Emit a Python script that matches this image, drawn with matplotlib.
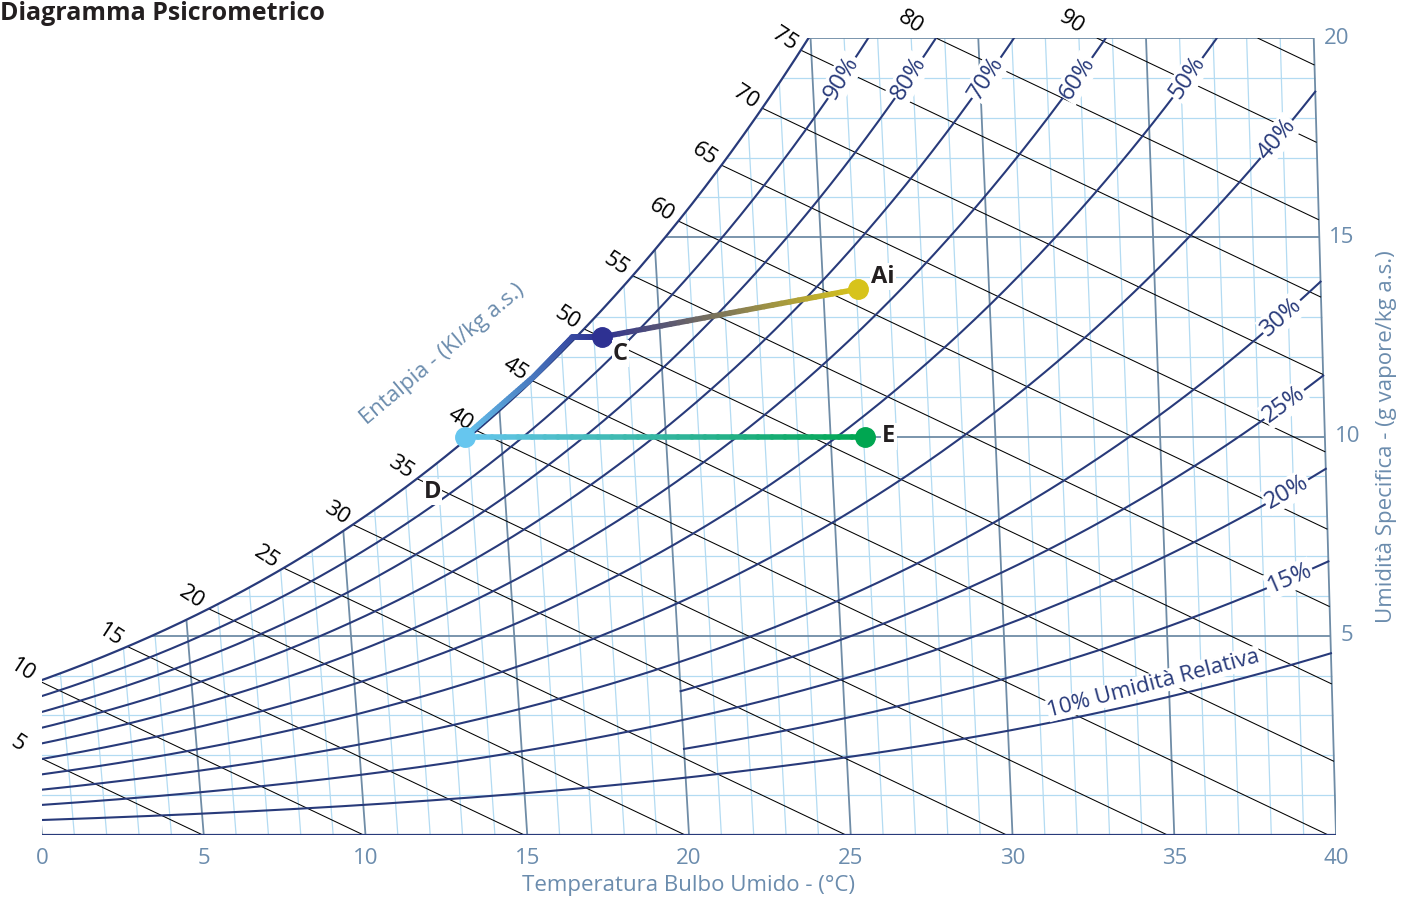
import numpy as np
import matplotlib.pyplot as plt
from matplotlib.collections import LineCollection
from matplotlib.colors import to_rgb

plt.rcParams['font.family'] = ['Open Sans', 'DejaVu Sans']

# --- chart levels ---
rh_levels = [0.1, 0.2, 0.3, 0.4, 0.5, 0.6, 0.7, 0.8, 0.9]
rh_partial = [0.15, 0.25]          # only drawn from 20 °C upwards
rh_top_labels = [0.9, 0.8, 0.7, 0.6, 0.5]
rh_side_labels = [0.4, 0.3, 0.25, 0.2, 0.15]
enthalpy_levels = list(range(5, 95, 5))
enthalpy_side_labels = list(range(5, 80, 5))
top_label_h = [80, 85]
top_label_txt = ['80', '90']
temp_ticks = [0, 5, 10, 15, 20, 25, 30, 35, 40]
w_ticks = [5, 10, 15, 20]

# --- process points (dry bulb °C, g/kg) ---
point_names = ['D', 'C', 'Ai', 'E']
point_T = [13.9, 18.25, 26.05, 26.05]
point_w = [10.0, 12.5, 13.7, 10.0]
point_colors = ['#66c6ef', '#2e3192', '#d7c31b', '#00a651']
# bends of the D -> C path (along saturation)
bend_T = [16.1, 17.35]
bend_w = [11.5, 12.5]
d_label = (12.8, 8.6)

P = 101.325
K = 2.61  # chart skew (kJ/kg per g/kg)

navy = '#283a7a'
grid_dark = '#6f8ca6'
grid_light = '#b3dbf2'
tick_col = '#6b8cad'


def psat(T):
    return 0.61078 * np.exp(17.27 * T / (T + 237.3))


def hum(T, phi):
    p = phi * psat(T)
    return 622 * p / (P - p)


def enth(T, w):
    return 1.006 * T + w * (2.501 + 0.00186 * T)


def xy(T, w):
    T = np.asarray(T, float)
    w = np.asarray(w, float)
    return enth(T, w) - K * w, w


def t_of_p(p):
    L = np.log(p / 0.61078)
    return 237.3 * L / (17.27 - L)


def t_sat(w, phi=1.0):
    return t_of_p(w * P / (622 + w) / phi)


def t_from_hw(h, w):
    return (h - 2.501 * w) / (1.006 + 0.00186 * w)


fig = plt.figure(figsize=(14.13, 9.07), dpi=100)
ax = fig.add_axes([42 / 1413, 72 / 907, 1294 / 1413, 797 / 907])
ax.set_xlim(0, enth(40, 0))
ax.set_ylim(0, 20)
for s in ax.spines.values():
    s.set_visible(False)


def seg(T0, w0, T1, w1, **kw):
    x, y = xy([T0, T1], [w0, w1])
    ax.plot(x, y, solid_capstyle='butt', **kw)


# light grid: dry bulb every 1 °C, humidity every 1 g/kg
for t in range(1, 40):
    if t % 5:
        seg(t, 0, t, min(hum(t, 1), 20), color=grid_light, lw=0.9, zorder=1)
for w in range(1, 20):
    if w % 5:
        seg(max(t_sat(w), 0), w, 40, w, color=grid_light, lw=0.9, zorder=1)

# dark grid
for t in [0, 5, 10, 15, 20, 25, 30, 35, 40]:
    seg(t, 0, t, min(hum(t, 1), 20), color=grid_dark, lw=1.3, zorder=2)
for w in [5, 10, 15, 20]:
    seg(t_sat(w), w, 40, w, color=grid_dark, lw=1.3, zorder=2)

# enthalpy lines
Tg = np.linspace(0, 40, 4001)
h_sat = enth(Tg, hum(Tg, 1))
h_top = enth(t_sat(20), 20)
starts = {}
for h in enthalpy_levels:
    if h < h_sat[0]:
        t0, w0 = 0.0, h / 2.501
    elif h <= h_top:
        t0 = np.interp(h, h_sat, Tg)
        w0 = hum(t0, 1)
    else:
        t0, w0 = t_from_hw(h, 20), 20.0
    if h <= enth(40, 0):
        t1, w1 = h / 1.006, 0.0
    else:
        t1, w1 = 40.0, (h - 40 * 1.006) / (2.501 + 0.00186 * 40)
    starts[h] = (t0, w0)
    seg(t0, w0, t1, w1, color='black', lw=0.75, zorder=3)


# RH curves
def rh_curve(phi, t0=0.0, lw=1.5):
    tend = min(40.0, t_sat(20, phi))
    T = np.linspace(t0, tend, 300)
    x, y = xy(T, hum(T, phi))
    ax.plot(x, y, color=navy, lw=lw, zorder=4)


for phi in rh_levels:
    rh_curve(phi)
for phi in rh_partial:
    rh_curve(phi, 20.0)
rh_curve(1.0, lw=1.6)
ax.plot(*xy([0, 40], [0, 0]), color=navy, lw=1.6, zorder=4)

fig.canvas.draw()


def angle_at(T, phi):
    p0 = ax.transData.transform(np.column_stack(xy([T - 0.1], [hum(T - 0.1, phi)])))[0]
    p1 = ax.transData.transform(np.column_stack(xy([T + 0.1], [hum(T + 0.1, phi)])))[0]
    return np.degrees(np.arctan2(p1[1] - p0[1], p1[0] - p0[0]))


box = dict(facecolor='white', edgecolor='none', pad=1.0)
for phi in rh_top_labels:
    t = t_sat(19.0, phi)
    x, y = xy(t, 19.0)
    ax.text(x, y, f'{int(round(phi * 100))}%', color=navy, fontsize=17,
            rotation=angle_at(t, phi) + 3, rotation_mode='anchor',
            ha='center', va='center', bbox=box, zorder=5)
for phi in rh_side_labels:
    t = 38.8
    x, y = xy(t, hum(t, phi))
    ax.text(x, y, f'{int(round(phi * 100))}%', color=navy, fontsize=17,
            rotation=angle_at(t, phi), rotation_mode='anchor',
            ha='center', va='center', bbox=box, zorder=5)
t = 34.6
x, y = xy(t, hum(t, 0.1))
ax.text(x, y + 0.15, '10% Umidità Relativa', color=navy, fontsize=16,
        rotation=angle_at(t, 0.1) + 1.5, rotation_mode='anchor',
        ha='center', va='bottom',
        bbox=dict(facecolor='white', edgecolor='none', pad=0.5), zorder=5)

# enthalpy labels
for h in enthalpy_side_labels:
    x, y = xy(*starts[h])
    ax.annotate(str(h), (x, y), xytext=(-12, 8), textcoords='offset points',
                fontsize=16, rotation=-33, ha='center', va='center',
                annotation_clip=False, zorder=5)
for h, txt in zip(top_label_h, top_label_txt):
    x, y = xy(*starts[h])
    ax.annotate(txt, (x, y), xytext=(-18, 11), textcoords='offset points',
                fontsize=16, rotation=-33, ha='center', va='center',
                annotation_clip=False, zorder=5)

# humidity ticks on right border
for w in w_ticks:
    x, y = xy(40, w)
    ax.annotate(str(w), (x, y), xytext=(7, 0), textcoords='offset points',
                fontsize=16, color=tick_col, ha='left', va='center',
                annotation_clip=False)

ax.set_xticks([enth(t, 0) for t in temp_ticks], [str(t) for t in temp_ticks])
ax.tick_params(axis='x', length=0, pad=9, labelsize=16, labelcolor=tick_col)
ax.set_yticks([])
ax.set_xlabel('Temperatura Bulbo Umido - (°C)', fontsize=16, color=tick_col, labelpad=5)
ax.yaxis.set_label_position('right')
ax.set_ylabel('Umidità Specifica - (g vapore/kg a.s.)', fontsize=16,
              color=tick_col, labelpad=29)

# Entalpia axis title
x, y = xy(13.4, 12.05)
ax.text(x, y, 'Entalpia - (Kl/kg a.s.)', fontsize=16, color=tick_col,
        rotation=40, ha='center', va='center')


# gradient process lines
def grad_line(Ts, ws, c0, c1, lw=4.0):
    x, y = xy(Ts, ws)
    px = np.column_stack([x * 32.16, y * 39.85])
    L = np.concatenate([[0], np.cumsum(np.hypot(*np.diff(px, axis=0).T))])
    segs, cols = [], []
    a, b = np.array(to_rgb(c0)), np.array(to_rgb(c1))
    for i in range(len(x) - 1):
        n = 30
        for j in range(n):
            f0, f1 = j / n, (j + 1) / n
            p0 = (x[i] + (x[i + 1] - x[i]) * f0, y[i] + (y[i + 1] - y[i]) * f0)
            p1 = (x[i] + (x[i + 1] - x[i]) * f1, y[i] + (y[i + 1] - y[i]) * f1)
            frac = (L[i] + (L[i + 1] - L[i]) * (f0 + f1) / 2) / L[-1]
            segs.append([p0, p1])
            cols.append(a + (b - a) * frac)
    ax.add_collection(LineCollection(segs, colors=cols, linewidths=lw,
                                     capstyle='round', zorder=6))


iD, iC, iA, iE = range(4)
grad_line([point_T[iD]] + bend_T + [point_T[iC]],
          [point_w[iD]] + bend_w + [point_w[iC]], point_colors[iD], point_colors[iC])
grad_line([point_T[iC], point_T[iA]], [point_w[iC], point_w[iA]],
          point_colors[iC], point_colors[iA])
grad_line([point_T[iD], point_T[iE]], [point_w[iD], point_w[iE]],
          point_colors[iD], point_colors[iE])

for t, w, c in zip(point_T, point_w, point_colors):
    ax.plot(*xy([t], [w]), 'o', color=c, ms=14, zorder=7, clip_on=False)

lab = dict(fontsize=17, fontweight='bold', color='#231f20', zorder=8,
           bbox=dict(facecolor='white', edgecolor='none', pad=0.8))
ax.annotate('C', xy(point_T[iC], point_w[iC]), xytext=(13, -12),
            textcoords='offset points', ha='center', va='center', **lab)
ax.annotate('Ai', xy(point_T[iA], point_w[iA]), xytext=(18, 9),
            textcoords='offset points', ha='center', va='center', **lab)
ax.annotate('E', xy(point_T[iE], point_w[iE]), xytext=(17, 0),
            textcoords='offset points', ha='center', va='center', **lab)
ax.text(*xy(*d_label), 'D', ha='center', va='center', **lab)

fig.text(0.0, 1 - 20 / 907, 'Diagramma Psicrometrico', fontsize=18,
         fontweight='bold', color='#231f20', ha='left', va='baseline')

fig.savefig('out.png', dpi=100)
